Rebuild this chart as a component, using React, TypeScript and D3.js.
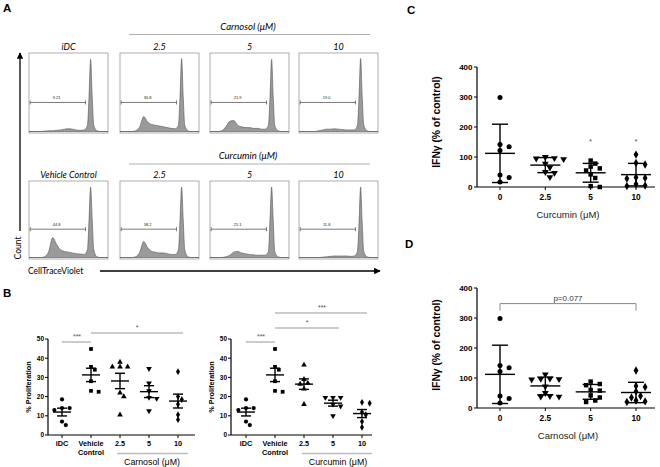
import React from 'react';
import * as d3 from 'd3';

// ---------- Panel A: flow histograms ----------
const histGrid = [0, .05, .1, .15, .2, .25, .3, .35, .4, .45, .5, .55, .6, .65, .7, .74, .76, .78, .8, .82, .86, .9, 1];
const histIDC = [0, 0, 0, 0, .005, .01, .01, .015, .02, .03, .035, .03, .02, .015, .02, .08, .45, .92, .45, .08, .01, 0, 0];
const histCarn25 = [0, 0, 0, 0, .01, .06, .19, .12, .09, .08, .07, .06, .05, .04, .035, .08, .45, .93, .45, .08, .01, 0, 0];
const histCarn5 = [0, 0, 0, .01, .06, .13, .14, .08, .06, .05, .05, .04, .04, .03, .03, .08, .45, .92, .45, .08, .01, 0, 0];
const histCarn10 = [0, 0, 0, 0, 0, .01, .02, .03, .03, .035, .03, .025, .02, .02, .02, .08, .45, .93, .45, .08, .01, 0, 0];
const histVeh = [0, 0, 0, 0, .01, .08, .26, .17, .1, .08, .07, .06, .05, .045, .04, .1, .5, .92, .5, .1, .01, 0, 0];
const histCurc25 = [0, 0, 0, 0, .01, .07, .21, .13, .08, .07, .06, .06, .05, .04, .04, .1, .5, .92, .5, .1, .01, 0, 0];
const histCurc5 = [0, 0, 0, 0, .01, .03, .07, .08, .06, .05, .04, .035, .03, .03, .03, .08, .5, .92, .5, .08, .01, 0, 0];
const histCurc10 = [0, 0, 0, 0, 0, 0, .005, .01, .015, .02, .02, .02, .02, .015, .02, .08, .45, .92, .45, .08, .01, 0, 0];
const gateLabelsTop = ['9.21', '36.8', '21.9', '19.0'];
const gateLabelsBottom = ['44.8', '38.2', '25.1', '11.8'];
const colLabelsTop = ['iDC', '2.5', '5', '10'];
const colLabelsBottom = ['Vehicle Control', '2.5', '5', '10'];

// ---------- Panel B: % proliferation ----------
const bCategories = ['iDC', 'Vehicle|Control', '2.5', '5', '10'];
const bTicks = [0, 10, 20, 30, 40, 50];
const bIDC = [18.5, 14, 14, 13, 7, 5.2];
const bVehicle = [44.8, 35.5, 34, 28, 23, 22.5];
const bCarn25 = [38, 35.5, 35.5, 35.5, 22, 20, 10.5];
const bCarn5 = [34.5, 27, 23, 19.5, 19, 12.5];
const bCarn10 = [33, 20, 18.5, 16, 10.5, 8];
const bCurc25 = [36.5, 29, 27, 26.5, 24, 16];
const bCurc5 = [19.5, 19.5, 19.5, 16, 15, 10];
const bCurc10 = [17, 16.5, 12, 10.5, 7, 4];

// ---------- Panels C & D: IFN-gamma ----------
const cdCategories = ['0', '2.5', '5', '10'];
const cdTicks = [0, 100, 200, 300, 400];
const ifnControl = [298, 142, 134, 122, 40, 32, 17];
const cCurc25 = [100, 96, 95, 93, 78, 65, 50, 47, 33];
const cCurc5 = [88, 78, 68, 62, 55, 42, 30, 3, 0];
const cCurc10 = [108, 80, 75, 32, 30, 28, 10, 5, 3];
const dCarn25 = [112, 98, 97, 96, 95, 72, 50, 40, 38, 38];
const dCarn5 = [88, 80, 76, 60, 58, 42, 35, 25, 20];
const dCarn10 = [125, 73, 70, 55, 40, 35, 25, 22, 20];

const SANS = 'Liberation Sans, Arial, sans-serif';
const CAL = 'Lato, Carlito, sans-serif';

type Sym = 'circle' | 'square' | 'up' | 'down' | 'diamond';

function symPath(s: Sym, size: number) {
  const t = s === 'circle' ? d3.symbolCircle : s === 'square' ? d3.symbolSquare
    : s === 'diamond' ? d3.symbolDiamond : d3.symbolTriangle;
  return d3.symbol().type(t).size(size)() as string;
}

function Histogram({ x, y, w, h, heights, gate }: any) {
  const xs = d3.scaleLinear().domain([0, 1]).range([x, x + w]);
  const ys = d3.scaleLinear().domain([0, 1]).range([y + h - 1.5, y]);
  const area = d3.area<number>()
    .x((_, i) => xs(histGrid[i]))
    .y0(ys(0))
    .y1((d) => ys(d))
    .curve(d3.curveMonotoneX);
  const gy = ys(0.37);
  const gx0 = xs(0.015), gx1 = xs(0.715);
  return (
    <g>
      <rect x={x} y={y} width={w} height={h} fill="#fff" stroke="#999" strokeWidth={0.8} />
      <path d={area(heights) as string} fill="#9a9a9a" stroke="#555" strokeWidth={0.6} />
      <line x1={gx0} x2={gx1} y1={gy} y2={gy} stroke="#444" strokeWidth={0.7} />
      <line x1={gx0} x2={gx0} y1={gy - 2} y2={gy + 2} stroke="#444" strokeWidth={0.7} />
      <line x1={gx1} x2={gx1} y1={gy - 2} y2={gy + 2} stroke="#444" strokeWidth={0.7} />
      <text x={xs(0.35)} y={gy - 3} fontSize={4} fontFamily={SANS} textAnchor="middle" fill="#222">{gate}</text>
    </g>
  );
}

function Dots({ groups, xScale, yScale, size, meanHalf, capHalf, err }: any) {
  const diam = Math.sqrt(size) * 1.2;
  return (
    <g>
      {groups.map((g: any, gi: number) => {
        const cx = xScale(g.cat);
        const sorted = [...g.values].sort((a: number, b: number) => b - a);
        const placed: { x: number; y: number }[] = [];
        const pts = sorted.map((v: number) => {
          const py = yScale(v);
          let off = 0;
          for (let k = 0; k < 20; k++) {
            const cand = k === 0 ? 0 : (k % 2 ? 1 : -1) * Math.ceil(k / 2) * diam * 0.85;
            const ok = placed.every((p) => Math.hypot(p.x - (cx + cand), p.y - py) >= diam);
            if (ok) { off = cand; break; }
          }
          const p = { x: cx + off, y: py };
          placed.push(p);
          return p;
        });
        const mean = d3.mean(g.values as number[]) as number;
        const sd = d3.deviation(g.values as number[]) as number;
        const e = err === 'sem' ? sd / Math.sqrt(g.values.length) : sd;
        const ym = yScale(mean), yt = yScale(mean + e), yb = yScale(Math.max(0, mean - e));
        return (
          <g key={gi}>
            {pts.map((p: any, i: number) => (
              <path key={i} d={symPath(g.sym, size)}
                transform={`translate(${p.x},${p.y})${g.sym === 'down' ? ' rotate(180)' : ''}`}
                fill="#000" />
            ))}
            <line x1={cx - meanHalf} x2={cx + meanHalf} y1={ym} y2={ym} stroke="#000" strokeWidth={1.4} />
            <line x1={cx} x2={cx} y1={yt} y2={yb} stroke="#000" strokeWidth={1.4} />
            <line x1={cx - capHalf} x2={cx + capHalf} y1={yt} y2={yt} stroke="#000" strokeWidth={1.4} />
            <line x1={cx - capHalf} x2={cx + capHalf} y1={yb} y2={yb} stroke="#000" strokeWidth={1.4} />
          </g>
        );
      })}
    </g>
  );
}

function PanelB({ axisX, xEnd, catRange, groups, drug, labelX, underline, sig }: any) {
  const y = d3.scaleLinear().domain([0, 50]).range([435, 339]);
  const x = d3.scalePoint<string>().domain(bCategories).range(catRange);
  return (
    <g>
      <line x1={axisX} x2={axisX} y1={435} y2={339} stroke="#000" strokeWidth={1.2} />
      <line x1={axisX} x2={xEnd} y1={435} y2={435} stroke="#000" strokeWidth={1.2} />
      {bTicks.map((t) => (
        <g key={t}>
          <line x1={axisX - 3} x2={axisX} y1={y(t)} y2={y(t)} stroke="#000" strokeWidth={1} />
          <text x={axisX - 4} y={y(t) + 2.3} fontSize={6.5} fontWeight="bold" fontFamily={SANS} textAnchor="end">{t}</text>
        </g>
      ))}
      {bCategories.map((c) => {
        const lines = c.split('|');
        return (
          <g key={c}>
            <line x1={x(c)} x2={x(c)} y1={435} y2={438} stroke="#000" strokeWidth={1} />
            {lines.map((l, i) => (
              <text key={i} x={x(c)} y={446 + i * 9} fontSize={7.3} fontWeight="bold" fontFamily={SANS} textAnchor="middle">{l}</text>
            ))}
          </g>
        );
      })}
      <line x1={underline[0]} x2={underline[1]} y1={453.5} y2={453.5} stroke="#bbb" strokeWidth={1.3} />
      <text x={labelX} y={465} fontSize={8.8} fontFamily={SANS} textAnchor="middle">{drug} (μM)</text>
      <text transform={`translate(${axisX - 17},387) rotate(-90)`} fontSize={7.3} fontWeight="bold" fontFamily={SANS} textAnchor="middle">% Proliferation</text>
      {sig.map((s: any, i: number) => (
        <g key={i}>
          <line x1={x(s.a)} x2={(x(s.b) as number) + s.ext} y1={s.y} y2={s.y} stroke="#999" strokeWidth={1} />
          <text x={s.tx} y={s.y - 3} fontSize={7} fontFamily={SANS} textAnchor="middle" fill="#555">{s.label}</text>
        </g>
      ))}
      <Dots groups={groups.map((g: any, i: number) => ({ ...g, cat: bCategories[i] }))} xScale={x} yScale={y}
        size={14} meanHalf={9} capHalf={5} err="sem" />
    </g>
  );
}

function PanelCD({ y0, drug, groups, labelY, extra }: any) {
  const y = d3.scaleLinear().domain([0, 400]).range([y0, y0 - 120]);
  const x = d3.scalePoint<string>().domain(cdCategories).range([500, 636]);
  return (
    <g>
      <line x1={477} x2={477} y1={y0} y2={y0 - 120} stroke="#000" strokeWidth={1.2} />
      <line x1={477} x2={655} y1={y0} y2={y0} stroke="#000" strokeWidth={1.2} />
      {cdTicks.map((t) => (
        <g key={t}>
          <line x1={474} x2={477} y1={y(t)} y2={y(t)} stroke="#000" strokeWidth={1} />
          <text x={472.5} y={y(t) + 2.8} fontSize={8} fontWeight="bold" fontFamily={SANS} textAnchor="end">{t}</text>
        </g>
      ))}
      {cdCategories.map((c) => (
        <g key={c}>
          <line x1={x(c)} x2={x(c)} y1={y0} y2={y0 + 3} stroke="#000" strokeWidth={1} />
          <text x={x(c)} y={y0 + 13} fontSize={8.3} fontWeight="bold" fontFamily={SANS} textAnchor="middle">{c}</text>
        </g>
      ))}
      <text x={568} y={y0 + 31} fontSize={9.5} fontFamily={SANS} textAnchor="middle" fill="#222">{drug} (μM)</text>
      <text transform={`translate(440,${labelY}) rotate(-90)`} fontSize={10.3} fontWeight="bold" fontFamily={SANS} textAnchor="middle">IFNγ (% of control)</text>
      {extra(x, y)}
      <Dots groups={groups.map((g: any, i: number) => ({ ...g, cat: cdCategories[i] }))} xScale={x} yScale={y}
        size={20} meanHalf={15} capHalf={8} err="sd" />
    </g>
  );
}

export default function App() {
  const boxXs = [29, 120, 210, 299];
  const topHists = [histIDC, histCarn25, histCarn5, histCarn10];
  const botHists = [histVeh, histCurc25, histCurc5, histCurc10];
  return (
    <svg width={660} height={467} style={{ position: 'absolute', left: 0, top: 0, background: '#fff' }}>
      <defs>
        <marker id="arr" viewBox="0 0 10 10" refX={9} refY={5} markerWidth={5} markerHeight={5} orient="auto">
          <path d="M0,0 L10,5 L0,10 z" fill="#000" />
        </marker>
      </defs>
      <rect width={660} height={467} fill="#fff" />
      {/* Panel letters */}
      <text x={3} y={12} fontSize={11.5} fontWeight="bold" fontFamily={SANS}>A</text>
      <text x={3} y={297} fontSize={11.5} fontWeight="bold" fontFamily={SANS}>B</text>
      <text x={407} y={14} fontSize={11.5} fontWeight="bold" fontFamily={SANS}>C</text>
      <text x={405} y={248} fontSize={11.5} fontWeight="bold" fontFamily={SANS}>D</text>

      {/* Panel A */}
      <text x={248} y={30} fontSize={9.5} fontStyle="italic" fontFamily={CAL} textAnchor="middle">Carnosol (μM)</text>
      <line x1={129} x2={370} y1={34.5} y2={34.5} stroke="#999" strokeWidth={0.8} />
      <text x={248} y={159} fontSize={9.5} fontStyle="italic" fontFamily={CAL} textAnchor="middle">Curcumin (μM)</text>
      <line x1={129} x2={370} y1={164} y2={164} stroke="#999" strokeWidth={0.8} />
      {boxXs.map((bx, i) => (
        <g key={'t' + i}>
          <text x={bx + 39.5} y={50} fontSize={9} fontStyle="italic" fontFamily={CAL} textAnchor="middle">{colLabelsTop[i]}</text>
          <Histogram x={bx} y={53} w={79} h={80} heights={topHists[i]} gate={gateLabelsTop[i]} />
        </g>
      ))}
      {boxXs.map((bx, i) => (
        <g key={'b' + i}>
          <text x={bx + 39.5} y={178} fontSize={9} fontStyle="italic" fontFamily={CAL} textAnchor="middle">{colLabelsBottom[i]}</text>
          <Histogram x={bx} y={181} w={79} h={78} heights={botHists[i]} gate={gateLabelsBottom[i]} />
        </g>
      ))}
      <line x1={20} x2={20} y1={231} y2={53} stroke="#000" strokeWidth={1.3} markerEnd="url(#arr)" />
      <text transform="translate(21,248) rotate(-90)" fontSize={8.5} fontFamily={CAL} textAnchor="middle">Count</text>
      <text x={28} y={274} fontSize={8.5} fontFamily={CAL}>CellTraceViolet</text>
      <line x1={100} x2={380} y1={271} y2={271} stroke="#000" strokeWidth={1.3} markerEnd="url(#arr)" />

      {/* Panel B */}
      <PanelB axisX={48} xEnd={195} catRange={[62, 178]} drug="Carnosol" labelX={152} underline={[117, 188]}
        groups={[
          { values: bIDC, sym: 'circle' }, { values: bVehicle, sym: 'square' },
          { values: bCarn25, sym: 'up' }, { values: bCarn5, sym: 'down' }, { values: bCarn10, sym: 'diamond' }]}
        sig={[
          { a: 'iDC', b: 'Vehicle|Control', ext: 0, y: 342, tx: 77, label: '***' },
          { a: 'Vehicle|Control', b: '10', ext: 5, y: 333, tx: 137, label: '*' }]} />
      <PanelB axisX={231} xEnd={372} catRange={[246, 362]} drug="Curcumin" labelX={338} underline={[302, 372]}
        groups={[
          { values: bIDC, sym: 'circle' }, { values: bVehicle, sym: 'square' },
          { values: bCurc25, sym: 'up' }, { values: bCurc5, sym: 'down' }, { values: bCurc10, sym: 'diamond' }]}
        sig={[
          { a: 'iDC', b: 'Vehicle|Control', ext: 0, y: 342, tx: 261, label: '***' },
          { a: 'Vehicle|Control', b: '5', ext: 6, y: 328, tx: 307, label: '*' },
          { a: 'Vehicle|Control', b: '10', ext: 5, y: 313, tx: 322, label: '***' }]} />

      {/* Panel C */}
      <PanelCD y0={187} drug="Curcumin" labelY={122}
        groups={[
          { values: ifnControl, sym: 'circle' }, { values: cCurc25, sym: 'down' },
          { values: cCurc5, sym: 'square' }, { values: cCurc10, sym: 'diamond' }]}
        extra={(x: any, y: any) => (
          <g>
            {['5', '10'].map((c) => (
              <text key={c} x={x(c)} y={y(158) + 4} fontSize={8} fontFamily={SANS} textAnchor="middle" fill="#555">*</text>
            ))}
          </g>
        )} />
      {/* Panel D */}
      <PanelCD y0={408} drug="Carnosol" labelY={345}
        groups={[
          { values: ifnControl, sym: 'circle' }, { values: dCarn25, sym: 'down' },
          { values: dCarn5, sym: 'square' }, { values: dCarn10, sym: 'diamond' }]}
        extra={(x: any, y: any) => (
          <g>
            <path d={`M${x('0')},${y(348) + 7}V${y(348)}H${x('10')}V${y(348) + 7}`} fill="none" stroke="#888" strokeWidth={1} />
            <text x={(x('0') + x('10')) / 2} y={y(348) - 3} fontSize={8} fontFamily={SANS} textAnchor="middle" fill="#333">p=0.077</text>
          </g>
        )} />
    </svg>
  );
}
